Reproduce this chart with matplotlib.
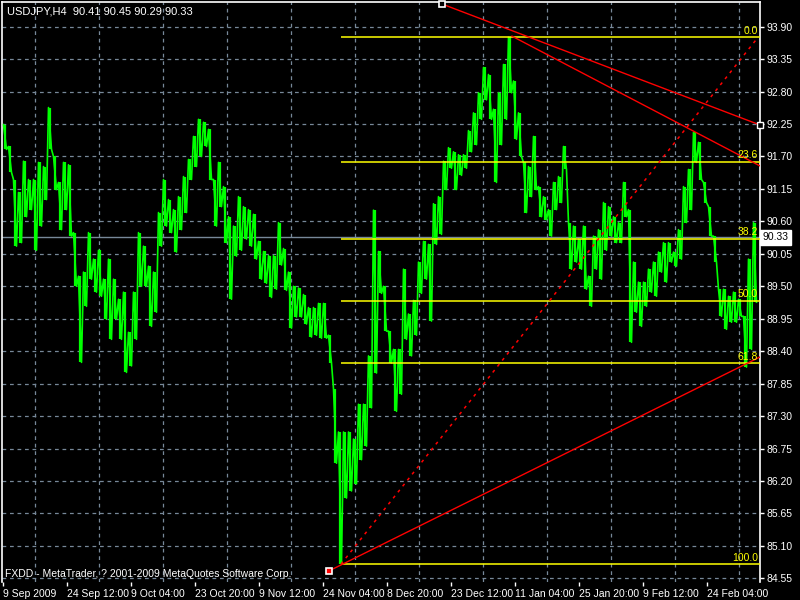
import numpy as np
import matplotlib
matplotlib.use("Agg")
import matplotlib.pyplot as plt
import matplotlib.transforms as mtransforms

# USDJPY H4, high / low of every 5 bars (bar index = 3 + 5*i)
price_hi = [92.24, 91.87, 91.31, 91.09, 91.62, 91.31, 91.31, 91.60, 91.53, 92.53,
            91.70, 91.26, 91.60, 91.56, 90.41, 89.67, 89.74, 90.41, 89.96, 90.11,
            89.62, 89.96, 89.62, 89.28, 89.40, 88.72, 89.40, 90.41, 90.18, 89.84,
            89.74, 90.75, 91.31, 90.97, 90.80, 91.02, 91.36, 91.65, 92.04, 92.33,
            92.28, 92.16, 91.31, 91.60, 91.19, 90.68, 90.52, 91.02, 90.85, 90.80,
            90.72, 90.26, 90.09, 90.02, 90.02, 90.58, 90.14, 89.74, 89.50, 89.47,
            89.36, 89.14, 89.14, 89.21, 89.21, 88.67, 87.76, 87.03, 87.03, 87.03,
            86.91, 87.50, 87.50, 88.32, 90.79, 90.09, 89.50, 88.74, 88.43, 88.43,
            89.79, 89.03, 89.26, 89.91, 90.26, 90.21, 90.90, 91.02, 91.62, 91.85,
            91.78, 91.73, 91.73, 92.14, 92.44, 92.78, 93.21, 93.09, 92.50, 92.78,
            93.26, 93.72, 92.98, 92.44, 91.60, 91.53, 92.04, 91.19, 91.02, 90.80,
            91.26, 91.36, 91.87, 90.58, 90.52, 90.30, 90.52, 89.67, 90.35, 90.46,
            90.92, 90.85, 90.68, 90.58, 91.26, 90.80, 89.91, 89.57, 89.57, 89.79,
            89.91, 90.08, 90.24, 90.24, 90.08, 90.46, 91.19, 91.48, 92.11, 91.94,
            91.26, 90.85, 90.35, 89.45, 89.45, 89.33, 89.40, 89.28, 88.99, 89.96,
            90.58]
price_lo = [91.82, 91.43, 90.18, 90.24, 90.68, 90.80, 90.11, 90.52, 90.97, 91.82,
            91.14, 90.46, 90.80, 90.35, 89.50, 88.21, 89.16, 89.62, 89.40, 89.33,
            88.94, 88.60, 88.94, 88.60, 88.04, 88.15, 88.60, 89.50, 89.50, 88.82,
            89.06, 90.18, 90.52, 90.41, 90.08, 90.46, 90.75, 91.31, 91.53, 91.70,
            91.87, 91.31, 90.52, 90.85, 90.24, 89.28, 90.01, 90.11, 90.30, 90.18,
            89.96, 89.62, 89.55, 89.31, 89.45, 89.86, 89.43, 88.79, 88.98, 88.98,
            88.86, 88.64, 88.67, 88.62, 88.62, 88.20, 86.50, 84.79, 85.91, 86.03,
            86.15, 86.56, 86.79, 87.44, 88.03, 89.38, 88.74, 88.20, 87.38, 87.67,
            88.60, 88.32, 88.67, 89.38, 89.62, 88.91, 90.21, 90.38, 91.14, 91.50,
            91.14, 91.38, 91.50, 91.78, 91.90, 92.33, 92.66, 92.33, 91.26, 91.90,
            92.33, 92.78, 91.99, 91.70, 90.75, 91.02, 91.14, 90.68, 90.63, 90.35,
            90.80, 90.92, 91.48, 89.79, 89.91, 89.79, 89.45, 89.16, 89.79, 89.62,
            90.11, 90.35, 90.24, 90.24, 90.68, 88.55, 89.06, 88.82, 89.16, 89.40,
            89.33, 89.74, 89.57, 89.91, 89.84, 89.96, 90.58, 90.80, 91.60, 91.31,
            90.92, 90.35, 89.91, 88.99, 88.77, 88.89, 88.89, 88.99, 88.13, 88.43,
            89.23]
last_price = 90.33
header = "USDJPY,H4  90.41 90.45 90.29 90.33"
footer = "FXDD - MetaTrader, ? 2001-2009 MetaQuotes Software Corp."

time_pos = [1, 65, 129, 193, 257, 321, 385, 449, 513, 577, 641, 705]
time_labels = ["9 Sep 2009", "24 Sep 12:00", "9 Oct 04:00", "23 Oct 20:00",
               "9 Nov 12:00", "24 Nov 04:00", "8 Dec 20:00", "23 Dec 12:00",
               "11 Jan 04:00", "25 Jan 20:00", "9 Feb 12:00", "24 Feb 04:00"]
price_ticks = [93.90, 93.35, 92.80, 92.25, 91.70, 91.15, 90.60, 90.05, 89.50,
               88.95, 88.40, 87.85, 87.30, 86.75, 86.20, 85.65, 85.10, 84.55]

# fibonacci retracement (low -> high) and trend lines
fib_start, fib_end = 339, 756
fib_low, fib_high = 84.79, 93.72
fib_levels = [0.0, 23.6, 38.2, 50.0, 61.8, 100.0]
trend_low = ([327, 758], [84.675, 88.302])
trend_high_a = ([440, 758], [94.285, 92.234])
trend_high_b = ([510, 758], [93.74, 91.54])

plt.rcParams['font.family'] = ['Liberation Sans', 'DejaVu Sans']
plt.rcParams['font.size'] = 7

fig = plt.figure(figsize=(8, 6), dpi=100, facecolor='black')
ax = fig.add_axes([2 / 800, 18 / 600, 758 / 800, 580 / 600])
ax.set_facecolor('black')
ax.set_xlim(0, 758)
ax.set_ylim(84.487, 94.319)

grid_col = '#778899'
ax.set_xticks(np.arange(33, 758, 32), minor=True)
ax.set_xticks(time_pos)
ax.set_xticklabels(time_labels)
ax.set_yticks(price_ticks)
ax.set_yticklabels(["%.2f" % t for t in price_ticks])
ax.yaxis.tick_right()
ax.grid(which='minor', axis='x', color=grid_col, linestyle=(0, (3, 3)), lw=0.9)
ax.grid(which='major', axis='y', color=grid_col, linestyle=(0, (3, 3)), lw=0.9)
ax.tick_params(axis='x', which='minor', length=0)
ax.tick_params(axis='both', which='major', colors='white', length=3, width=1,
               labelsize=7.5, pad=2)
for lbl in ax.get_xticklabels():
    lbl.set_ha('left')
for side in ['left', 'top', 'right']:
    ax.spines[side].set_color('white')
    ax.spines[side].set_linewidth(1.2)
ax.spines['bottom'].set_visible(False)

# price bars
x = np.arange(len(price_hi)) * 5 + 3
ax.vlines(x, price_lo, price_hi, color='#00ff00', lw=1.6, zorder=3)
zx = np.column_stack([x - 1.5, x + 1.5]).ravel()
zy = np.column_stack([price_hi, price_lo]).ravel()
ax.plot(zx, zy, color='#00ff00', lw=1.2, zorder=3)

# last price line and box
ax.axhline(last_price, color=grid_col, lw=1, zorder=2)
trans = mtransforms.blended_transform_factory(ax.transAxes, ax.transData)
ax.text(1.003, last_price, "%.2f" % last_price, transform=trans, ha='left',
        va='center', color='black', fontsize=7.5,
        bbox=dict(boxstyle='square,pad=0.25', fc='white', ec='white'))

# fibonacci
for lv in fib_levels:
    p = fib_high - (fib_high - fib_low) * lv / 100
    ax.hlines(p, fib_start, 758, color='yellow', lw=1.1, zorder=4)
    ax.annotate("%.1f" % lv, (756, p), textcoords='offset points', xytext=(0, 1),
                ha='right', va='bottom', color='yellow', fontsize=7.5, zorder=5)
ax.plot([fib_start, fib_end], [fib_low, fib_high], color='red', lw=1.1,
        linestyle=(0, (2, 3)), zorder=4)

# trend lines
ax.plot(*trend_low, color='red', lw=1, zorder=4)
ax.plot(*trend_high_a, color='red', lw=1, zorder=4)
ax.plot(*trend_high_b, color='red', lw=1, zorder=4)
ax.plot(trend_low[0][0], trend_low[1][0], 's', ms=5, mfc='red', mec='white',
        mew=1.2, zorder=6, clip_on=False)
ax.plot(trend_high_a[0][0], trend_high_a[1][0], 's', ms=5, mfc='black', mec='white',
        mew=1.2, zorder=6, clip_on=False)
ax.plot(trend_high_a[0][1], trend_high_a[1][1], 's', ms=4, mfc='black', mec='white',
        mew=1, zorder=6, clip_on=False)

fig.text(7 / 800, 1 - 11 / 600, header, color='white', fontsize=8, va='center')
ax.text(3, 84.62, footer, color='white', fontsize=7.5, va='center', zorder=6)

fig.savefig("out.png", dpi=100, facecolor='black')
